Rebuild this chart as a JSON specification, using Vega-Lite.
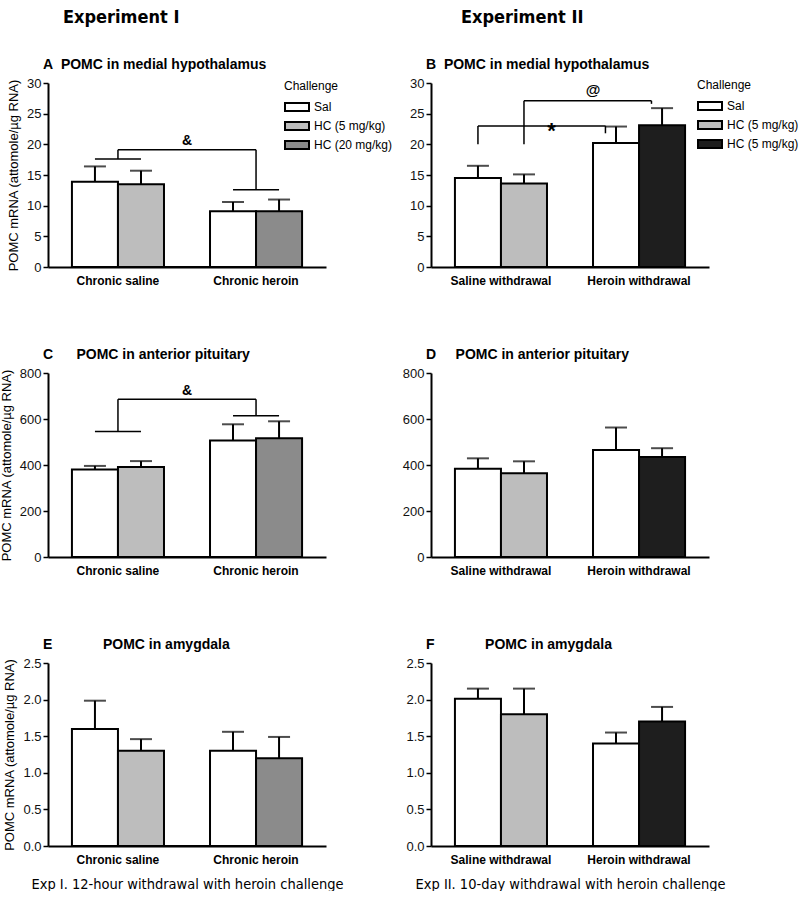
{
  "$schema": "https://vega.github.io/schema/vega-lite/v6.json",
  "background": "white",
  "padding": {"left": 0, "top": 9, "right": 0, "bottom": 0},
  "config": {
    "font": "Liberation Sans",
    "view": {"stroke": null},
    "axis": {"domainColor": "black", "domainWidth": 2, "tickColor": "black", "tickWidth": 1.5, "tickSize": 5, "labelColor": "#111", "labelFont": "Liberation Sans", "grid": false, "titleFont": "Liberation Sans", "titleColor": "black"},
    "axisX": {"ticks": false, "labelFontWeight": "bold", "labelFontSize": 12, "labelPadding": 8, "labelAngle": 0, "labelOffset": 23, "titleFont": "DejaVu Sans Condensed, Liberation Sans", "titleFontSize": 14.5, "titleFontWeight": "normal", "titlePadding": 12, "labelColor": "black"},
    "axisY": {"labelFontSize": 13, "labelPadding": 2, "labelOverlap": false, "titleFontSize": 13, "titleFontWeight": "normal", "titlePadding": 6},
    "title": {"anchor": "start", "frame": "group", "fontSize": 14, "fontWeight": "bold", "color": "black", "offset": 5, "dx": -5},
    "legend": {"symbolType": "M-1,-0.5H2V0.5H-1Z", "symbolSize": 256, "symbolStrokeColor": "black", "symbolStrokeWidth": 2, "labelFontSize": 12, "titleFontSize": 12, "titleFontWeight": "normal", "labelOffset": 12, "rowPadding": 2, "titlePadding": 5, "labelColor": "black", "titleColor": "black", "labelFont": "Liberation Sans", "titleFont": "Liberation Sans"}
  },
  "datasets": {
    "bars": [
      {"panel": "A", "column": "Chronic saline · Sal", "challenge": "Sal", "value": 13.9, "upper": 16.4},
      {"panel": "A", "column": "Chronic saline · HC", "challenge": "HC (5 mg/kg)", "value": 13.5, "upper": 15.7},
      {"panel": "A", "column": "spacer", "value": 0},
      {"panel": "A", "column": "Chronic heroin · Sal", "challenge": "Sal", "value": 9.1, "upper": 10.6},
      {"panel": "A", "column": "Chronic heroin · HC", "challenge": "HC (20 mg/kg)", "value": 9.1, "upper": 11.0},
      {"panel": "C", "column": "Chronic saline · Sal", "challenge": "Sal", "value": 380, "upper": 396},
      {"panel": "C", "column": "Chronic saline · HC", "challenge": "HC (5 mg/kg)", "value": 391, "upper": 417},
      {"panel": "C", "column": "spacer", "value": 0},
      {"panel": "C", "column": "Chronic heroin · Sal", "challenge": "Sal", "value": 507, "upper": 577},
      {"panel": "C", "column": "Chronic heroin · HC", "challenge": "HC (20 mg/kg)", "value": 516, "upper": 590},
      {"panel": "E", "column": "Chronic saline · Sal", "challenge": "Sal", "value": 1.6, "upper": 1.985},
      {"panel": "E", "column": "Chronic saline · HC", "challenge": "HC (5 mg/kg)", "value": 1.3, "upper": 1.46},
      {"panel": "E", "column": "spacer", "value": 0},
      {"panel": "E", "column": "Chronic heroin · Sal", "challenge": "Sal", "value": 1.3, "upper": 1.56},
      {"panel": "E", "column": "Chronic heroin · HC", "challenge": "HC (20 mg/kg)", "value": 1.2, "upper": 1.49},
      {"panel": "B", "column": "Saline withdrawal · Sal", "challenge": "Sal", "value": 14.5, "upper": 16.5},
      {"panel": "B", "column": "Saline withdrawal · HC", "challenge": "HC (5 mg/kg)", "value": 13.6, "upper": 15.1},
      {"panel": "B", "column": "spacer", "value": 0},
      {"panel": "B", "column": "Heroin withdrawal · Sal", "challenge": "Sal", "value": 20.2, "upper": 22.9},
      {"panel": "B", "column": "Heroin withdrawal · HC", "challenge": "HC (5 mg/kg) · heroin withdrawal", "value": 23.1, "upper": 25.9},
      {"panel": "D", "column": "Saline withdrawal · Sal", "challenge": "Sal", "value": 384, "upper": 429},
      {"panel": "D", "column": "Saline withdrawal · HC", "challenge": "HC (5 mg/kg)", "value": 364, "upper": 416},
      {"panel": "D", "column": "spacer", "value": 0},
      {"panel": "D", "column": "Heroin withdrawal · Sal", "challenge": "Sal", "value": 465, "upper": 563},
      {"panel": "D", "column": "Heroin withdrawal · HC", "challenge": "HC (5 mg/kg) · heroin withdrawal", "value": 435, "upper": 473},
      {"panel": "F", "column": "Saline withdrawal · Sal", "challenge": "Sal", "value": 2.01, "upper": 2.15},
      {"panel": "F", "column": "Saline withdrawal · HC", "challenge": "HC (5 mg/kg)", "value": 1.8, "upper": 2.15},
      {"panel": "F", "column": "spacer", "value": 0},
      {"panel": "F", "column": "Heroin withdrawal · Sal", "challenge": "Sal", "value": 1.4, "upper": 1.55},
      {"panel": "F", "column": "Heroin withdrawal · HC", "challenge": "HC (5 mg/kg) · heroin withdrawal", "value": 1.7, "upper": 1.9}
    ],
    "brackets1": [
      {"panel": "A", "leftA": "Chronic saline · Sal", "leftB": "Chronic saline · HC", "leftY": 17.6, "rightA": "Chronic heroin · Sal", "rightB": "Chronic heroin · HC", "rightY": 12.6, "topY": 19.1, "labelAt": "spacer", "label": "&"},
      {"panel": "C", "leftA": "Chronic saline · Sal", "leftB": "Chronic saline · HC", "leftY": 546, "rightA": "Chronic heroin · Sal", "rightB": "Chronic heroin · HC", "rightY": 614, "topY": 686, "labelAt": "spacer", "label": "&"}
    ],
    "brackets2": [
      {"panel": "B", "from": "Saline withdrawal · Sal", "to": "Heroin withdrawal · Sal", "fromY": 20.0, "toY": 21.8, "topY": 23.0, "labelAt": "spacer", "label": "*"},
      {"panel": "B", "from": "Saline withdrawal · HC", "to": "Heroin withdrawal · HC", "fromY": 20.0, "toY": 26.6, "topY": 27.1, "labelAt": "Heroin withdrawal · Sal", "label": "@"}
    ]
  },
  "spacing": 9,
  "resolve": {"scale": {"x": "independent", "y": "independent", "color": "independent"}, "legend": {"color": "independent"}},
  "hconcat": [
    {
      "title": {"text": "Experiment I", "font": "DejaVu Sans Condensed, Liberation Sans", "fontSize": 18, "fontWeight": "bold", "anchor": "start", "frame": "group", "dx": 15, "offset": 31},
      "spacing": 106,
      "bounds": "flush",
      "resolve": {"scale": {"x": "independent", "y": "independent", "color": "independent"}, "legend": {"color": "independent"}},
      "vconcat": [
        {
          "width": 278, "height": 184,
          "title": {"text": "A\u00a0\u00a0POMC in medial hypothalamus"},
          "layer": [
            {"data": {"name": "bars"}, "transform": [{"filter": "datum.panel == 'A' && datum.column != 'spacer'"}],
             "mark": {"type": "bar", "stroke": "black", "strokeWidth": 2},
             "encoding": {
               "x": {"field": "column", "type": "nominal", "title": null, "scale": {"domain": ["Chronic saline · Sal", "Chronic saline · HC", "spacer", "Chronic heroin · Sal", "Chronic heroin · HC"], "paddingInner": 0, "paddingOuter": 0.52}, "axis": {"labelExpr": "split(datum.value, ' · ')[1] == 'Sal' ? split(datum.value, ' · ')[0] : ''"}},
               "y": {"field": "value", "type": "quantitative", "title": "POMC mRNA (attomole/µg RNA)", "scale": {"domain": [0, 30], "nice": false}, "axis": {"values": [0, 5, 10, 15, 20, 25, 30], "labelOverlap": false}},
               "color": {"field": "challenge", "type": "nominal", "scale": {"domain": ["Sal", "HC (5 mg/kg)", "HC (20 mg/kg)"], "range": ["#ffffff", "#bdbdbd", "#8b8b8b"]}, "legend": {"title": "Challenge", "orient": "none", "legendX": 236, "legendY": -2}}
             }},
            {"data": {"name": "bars"}, "transform": [{"filter": "datum.panel == 'A' && datum.column == 'spacer'"}],
             "mark": {"type": "bar", "fill": "white", "stroke": "black", "strokeWidth": 2},
             "encoding": {"x": {"field": "column", "type": "nominal", "title": null}, "y": {"field": "value", "type": "quantitative", "title": "POMC mRNA (attomole/µg RNA)", "axis": {"values": [0, 5, 10, 15, 20, 25, 30], "labelOverlap": false}}}},
            {"data": {"name": "bars"}, "transform": [{"filter": "datum.panel == 'A' && datum.column != 'spacer'"}],
             "mark": {"type": "rule", "color": "black", "strokeWidth": 2},
             "encoding": {"x": {"field": "column", "type": "nominal", "title": null}, "y": {"field": "value", "type": "quantitative", "title": "POMC mRNA (attomole/µg RNA)", "axis": {"values": [0, 5, 10, 15, 20, 25, 30], "labelOverlap": false}}, "y2": {"field": "upper"}}},
            {"data": {"name": "bars"}, "transform": [{"filter": "datum.panel == 'A' && datum.column != 'spacer'"}],
             "mark": {"type": "tick", "color": "black", "thickness": 2, "size": 22},
             "encoding": {"x": {"field": "column", "type": "nominal", "title": null}, "y": {"field": "upper", "type": "quantitative", "title": "POMC mRNA (attomole/µg RNA)", "axis": {"values": [0, 5, 10, 15, 20, 25, 30], "labelOverlap": false}}}},
            {"data": {"name": "brackets1"}, "transform": [{"filter": "datum.panel == 'A'"}],
             "mark": {"type": "rule", "color": "black", "strokeWidth": 1.5},
             "encoding": {"x": {"field": "leftA", "type": "nominal", "bandPosition": 0.5, "title": null}, "x2": {"field": "leftB", "bandPosition": 0.5}, "y": {"field": "leftY", "type": "quantitative", "title": "POMC mRNA (attomole/µg RNA)", "axis": {"values": [0, 5, 10, 15, 20, 25, 30], "labelOverlap": false}}}},
            {"data": {"name": "brackets1"}, "transform": [{"filter": "datum.panel == 'A'"}],
             "mark": {"type": "rule", "color": "black", "strokeWidth": 1.5},
             "encoding": {"x": {"field": "rightA", "type": "nominal", "bandPosition": 0.5, "title": null}, "x2": {"field": "rightB", "bandPosition": 0.5}, "y": {"field": "rightY", "type": "quantitative", "title": "POMC mRNA (attomole/µg RNA)", "axis": {"values": [0, 5, 10, 15, 20, 25, 30], "labelOverlap": false}}}},
            {"data": {"name": "brackets1"}, "transform": [{"filter": "datum.panel == 'A'"}],
             "mark": {"type": "rule", "color": "black", "strokeWidth": 1.5},
             "encoding": {"x": {"field": "leftB", "type": "nominal", "bandPosition": 0, "title": null}, "x2": {"field": "rightB", "bandPosition": 0}, "y": {"field": "topY", "type": "quantitative", "title": "POMC mRNA (attomole/µg RNA)", "axis": {"values": [0, 5, 10, 15, 20, 25, 30], "labelOverlap": false}}}},
            {"data": {"name": "brackets1"}, "transform": [{"filter": "datum.panel == 'A'"}],
             "mark": {"type": "rule", "color": "black", "strokeWidth": 1.5},
             "encoding": {"x": {"field": "leftB", "type": "nominal", "bandPosition": 0, "title": null}, "y": {"field": "leftY", "type": "quantitative", "title": "POMC mRNA (attomole/µg RNA)", "axis": {"values": [0, 5, 10, 15, 20, 25, 30], "labelOverlap": false}}, "y2": {"field": "topY"}}},
            {"data": {"name": "brackets1"}, "transform": [{"filter": "datum.panel == 'A'"}],
             "mark": {"type": "rule", "color": "black", "strokeWidth": 1.5},
             "encoding": {"x": {"field": "rightB", "type": "nominal", "bandPosition": 0, "title": null}, "y": {"field": "rightY", "type": "quantitative", "title": "POMC mRNA (attomole/µg RNA)", "axis": {"values": [0, 5, 10, 15, 20, 25, 30], "labelOverlap": false}}, "y2": {"field": "topY"}}},
            {"data": {"name": "brackets1"}, "transform": [{"filter": "datum.panel == 'A'"}],
             "mark": {"type": "text", "fontSize": 14, "fontWeight": "bold", "baseline": "alphabetic", "dy": -4.5, "color": "black"},
             "encoding": {"x": {"field": "labelAt", "type": "nominal", "bandPosition": 0.5, "title": null}, "y": {"field": "topY", "type": "quantitative", "title": "POMC mRNA (attomole/µg RNA)", "axis": {"values": [0, 5, 10, 15, 20, 25, 30], "labelOverlap": false}}, "text": {"field": "label"}}}
          ]
        },
        {
          "width": 278, "height": 184,
          "title": {"text": "C\u00a0\u00a0\u00a0\u00a0\u00a0\u00a0POMC in anterior pituitary"},
          "layer": [
            {"data": {"name": "bars"}, "transform": [{"filter": "datum.panel == 'C' && datum.column != 'spacer'"}],
             "mark": {"type": "bar", "stroke": "black", "strokeWidth": 2},
             "encoding": {
               "x": {"field": "column", "type": "nominal", "title": null, "scale": {"domain": ["Chronic saline · Sal", "Chronic saline · HC", "spacer", "Chronic heroin · Sal", "Chronic heroin · HC"], "paddingInner": 0, "paddingOuter": 0.52}, "axis": {"labelExpr": "split(datum.value, ' · ')[1] == 'Sal' ? split(datum.value, ' · ')[0] : ''"}},
               "y": {"field": "value", "type": "quantitative", "title": "POMC mRNA (attomole/µg RNA)", "scale": {"domain": [0, 800], "nice": false}, "axis": {"values": [0, 200, 400, 600, 800], "labelOverlap": false}},
               "color": {"field": "challenge", "type": "nominal", "scale": {"domain": ["Sal", "HC (5 mg/kg)", "HC (20 mg/kg)"], "range": ["#ffffff", "#bdbdbd", "#8b8b8b"]}, "legend": null}
             }},
            {"data": {"name": "bars"}, "transform": [{"filter": "datum.panel == 'C' && datum.column == 'spacer'"}],
             "mark": {"type": "bar", "fill": "white", "stroke": "black", "strokeWidth": 2},
             "encoding": {"x": {"field": "column", "type": "nominal", "title": null}, "y": {"field": "value", "type": "quantitative", "title": "POMC mRNA (attomole/µg RNA)"}}},
            {"data": {"name": "bars"}, "transform": [{"filter": "datum.panel == 'C' && datum.column != 'spacer'"}],
             "mark": {"type": "rule", "color": "black", "strokeWidth": 2},
             "encoding": {"x": {"field": "column", "type": "nominal", "title": null}, "y": {"field": "value", "type": "quantitative", "title": "POMC mRNA (attomole/µg RNA)"}, "y2": {"field": "upper"}}},
            {"data": {"name": "bars"}, "transform": [{"filter": "datum.panel == 'C' && datum.column != 'spacer'"}],
             "mark": {"type": "tick", "color": "black", "thickness": 2, "size": 22},
             "encoding": {"x": {"field": "column", "type": "nominal", "title": null}, "y": {"field": "upper", "type": "quantitative", "title": "POMC mRNA (attomole/µg RNA)"}}},
            {"data": {"name": "brackets1"}, "transform": [{"filter": "datum.panel == 'C'"}],
             "mark": {"type": "rule", "color": "black", "strokeWidth": 1.5},
             "encoding": {"x": {"field": "leftA", "type": "nominal", "bandPosition": 0.5, "title": null}, "x2": {"field": "leftB", "bandPosition": 0.5}, "y": {"field": "leftY", "type": "quantitative", "title": "POMC mRNA (attomole/µg RNA)"}}},
            {"data": {"name": "brackets1"}, "transform": [{"filter": "datum.panel == 'C'"}],
             "mark": {"type": "rule", "color": "black", "strokeWidth": 1.5},
             "encoding": {"x": {"field": "rightA", "type": "nominal", "bandPosition": 0.5, "title": null}, "x2": {"field": "rightB", "bandPosition": 0.5}, "y": {"field": "rightY", "type": "quantitative", "title": "POMC mRNA (attomole/µg RNA)"}}},
            {"data": {"name": "brackets1"}, "transform": [{"filter": "datum.panel == 'C'"}],
             "mark": {"type": "rule", "color": "black", "strokeWidth": 1.5},
             "encoding": {"x": {"field": "leftB", "type": "nominal", "bandPosition": 0, "title": null}, "x2": {"field": "rightB", "bandPosition": 0}, "y": {"field": "topY", "type": "quantitative", "title": "POMC mRNA (attomole/µg RNA)"}}},
            {"data": {"name": "brackets1"}, "transform": [{"filter": "datum.panel == 'C'"}],
             "mark": {"type": "rule", "color": "black", "strokeWidth": 1.5},
             "encoding": {"x": {"field": "leftB", "type": "nominal", "bandPosition": 0, "title": null}, "y": {"field": "leftY", "type": "quantitative", "title": "POMC mRNA (attomole/µg RNA)"}, "y2": {"field": "topY"}}},
            {"data": {"name": "brackets1"}, "transform": [{"filter": "datum.panel == 'C'"}],
             "mark": {"type": "rule", "color": "black", "strokeWidth": 1.5},
             "encoding": {"x": {"field": "rightB", "type": "nominal", "bandPosition": 0, "title": null}, "y": {"field": "rightY", "type": "quantitative", "title": "POMC mRNA (attomole/µg RNA)"}, "y2": {"field": "topY"}}},
            {"data": {"name": "brackets1"}, "transform": [{"filter": "datum.panel == 'C'"}],
             "mark": {"type": "text", "fontSize": 14, "fontWeight": "bold", "baseline": "alphabetic", "dy": -4.5, "color": "black"},
             "encoding": {"x": {"field": "labelAt", "type": "nominal", "bandPosition": 0.5, "title": null}, "y": {"field": "topY", "type": "quantitative", "title": "POMC mRNA (attomole/µg RNA)"}, "text": {"field": "label"}}}
          ]
        },
        {
          "width": 278, "height": 183,
          "title": {"text": "E\u00a0\u00a0\u00a0\u00a0\u00a0\u00a0\u00a0\u00a0\u00a0\u00a0\u00a0\u00a0\u00a0POMC in amygdala"},
          "layer": [
            {"data": {"name": "bars"}, "transform": [{"filter": "datum.panel == 'E' && datum.column != 'spacer'"}],
             "mark": {"type": "bar", "stroke": "black", "strokeWidth": 2},
             "encoding": {
               "x": {"field": "column", "type": "nominal", "title": "Exp I. 12-hour withdrawal with heroin challenge", "scale": {"domain": ["Chronic saline · Sal", "Chronic saline · HC", "spacer", "Chronic heroin · Sal", "Chronic heroin · HC"], "paddingInner": 0, "paddingOuter": 0.52}, "axis": {"labelExpr": "split(datum.value, ' · ')[1] == 'Sal' ? split(datum.value, ' · ')[0] : ''"}},
               "y": {"field": "value", "type": "quantitative", "title": "POMC mRNA (attomole/µg RNA)", "scale": {"domain": [0, 2.5], "nice": false}, "axis": {"values": [0, 0.5, 1, 1.5, 2, 2.5], "tickCount": 6, "format": ".1f", "labelOverlap": false}},
               "color": {"field": "challenge", "type": "nominal", "scale": {"domain": ["Sal", "HC (5 mg/kg)", "HC (20 mg/kg)"], "range": ["#ffffff", "#bdbdbd", "#8b8b8b"]}, "legend": null}
             }},
            {"data": {"name": "bars"}, "transform": [{"filter": "datum.panel == 'E' && datum.column == 'spacer'"}],
             "mark": {"type": "bar", "fill": "white", "stroke": "black", "strokeWidth": 2},
             "encoding": {"x": {"field": "column", "type": "nominal", "title": "Exp I. 12-hour withdrawal with heroin challenge"}, "y": {"field": "value", "type": "quantitative", "title": "POMC mRNA (attomole/µg RNA)"}}},
            {"data": {"name": "bars"}, "transform": [{"filter": "datum.panel == 'E' && datum.column != 'spacer'"}],
             "mark": {"type": "rule", "color": "black", "strokeWidth": 2},
             "encoding": {"x": {"field": "column", "type": "nominal", "title": "Exp I. 12-hour withdrawal with heroin challenge"}, "y": {"field": "value", "type": "quantitative", "title": "POMC mRNA (attomole/µg RNA)"}, "y2": {"field": "upper"}}},
            {"data": {"name": "bars"}, "transform": [{"filter": "datum.panel == 'E' && datum.column != 'spacer'"}],
             "mark": {"type": "tick", "color": "black", "thickness": 2, "size": 22},
             "encoding": {"x": {"field": "column", "type": "nominal", "title": "Exp I. 12-hour withdrawal with heroin challenge"}, "y": {"field": "upper", "type": "quantitative", "title": "POMC mRNA (attomole/µg RNA)"}}}
          ]
        }
      ]
    },
    {
      "title": {"text": "Experiment II", "font": "DejaVu Sans Condensed, Liberation Sans", "fontSize": 18, "fontWeight": "bold", "anchor": "start", "frame": "group", "dx": 30, "offset": 31},
      "spacing": 106,
      "bounds": "flush",
      "resolve": {"scale": {"x": "independent", "y": "independent", "color": "independent"}, "legend": {"color": "independent"}},
      "vconcat": [
        {
          "width": 278, "height": 184,
          "title": {"text": "B\u00a0\u00a0POMC in medial hypothalamus"},
          "layer": [
            {"data": {"name": "bars"}, "transform": [{"filter": "datum.panel == 'B' && datum.column != 'spacer'"}],
             "mark": {"type": "bar", "stroke": "black", "strokeWidth": 2},
             "encoding": {
               "x": {"field": "column", "type": "nominal", "title": null, "scale": {"domain": ["Saline withdrawal · Sal", "Saline withdrawal · HC", "spacer", "Heroin withdrawal · Sal", "Heroin withdrawal · HC"], "paddingInner": 0, "paddingOuter": 0.52}, "axis": {"labelExpr": "split(datum.value, ' · ')[1] == 'Sal' ? split(datum.value, ' · ')[0] : ''"}},
               "y": {"field": "value", "type": "quantitative", "title": null, "scale": {"domain": [0, 30], "nice": false}, "axis": {"tickCount": 7, "labelOverlap": false}},
               "color": {"field": "challenge", "type": "nominal", "scale": {"domain": ["Sal", "HC (5 mg/kg)", "HC (5 mg/kg) · heroin withdrawal"], "range": ["#ffffff", "#bdbdbd", "#1e1e1e"]}, "legend": {"title": "Challenge", "orient": "none", "legendX": 266, "legendY": -3, "labelExpr": "split(datum.label, ' · ')[0]"}}
             }},
            {"data": {"name": "bars"}, "transform": [{"filter": "datum.panel == 'B' && datum.column == 'spacer'"}],
             "mark": {"type": "bar", "fill": "white", "stroke": "black", "strokeWidth": 2},
             "encoding": {"x": {"field": "column", "type": "nominal", "title": null}, "y": {"field": "value", "type": "quantitative", "title": null}}},
            {"data": {"name": "bars"}, "transform": [{"filter": "datum.panel == 'B' && datum.column != 'spacer'"}],
             "mark": {"type": "rule", "color": "black", "strokeWidth": 2},
             "encoding": {"x": {"field": "column", "type": "nominal", "title": null}, "y": {"field": "value", "type": "quantitative", "title": null}, "y2": {"field": "upper"}}},
            {"data": {"name": "bars"}, "transform": [{"filter": "datum.panel == 'B' && datum.column != 'spacer'"}],
             "mark": {"type": "tick", "color": "black", "thickness": 2, "size": 22},
             "encoding": {"x": {"field": "column", "type": "nominal", "title": null}, "y": {"field": "upper", "type": "quantitative", "title": null}}},
            {"data": {"name": "brackets2"}, "transform": [{"filter": "datum.panel == 'B'"}],
             "mark": {"type": "rule", "color": "black", "strokeWidth": 1.5},
             "encoding": {"x": {"field": "from", "type": "nominal", "bandPosition": 0.5, "title": null}, "y": {"field": "fromY", "type": "quantitative", "title": null}, "y2": {"field": "topY"}}},
            {"data": {"name": "brackets2"}, "transform": [{"filter": "datum.panel == 'B'"}],
             "mark": {"type": "rule", "color": "black", "strokeWidth": 1.5},
             "encoding": {"x": {"field": "from", "type": "nominal", "bandPosition": 0.5, "title": null}, "x2": {"field": "to", "bandPosition": 0.27}, "y": {"field": "topY", "type": "quantitative", "title": null}}},
            {"data": {"name": "brackets2"}, "transform": [{"filter": "datum.panel == 'B'"}],
             "mark": {"type": "rule", "color": "black", "strokeWidth": 1.5},
             "encoding": {"x": {"field": "to", "type": "nominal", "bandPosition": 0.27, "title": null}, "y": {"field": "toY", "type": "quantitative", "title": null}, "y2": {"field": "topY"}}},
            {"data": {"name": "brackets2"}, "transform": [{"filter": "datum.panel == 'B' && datum.label == '*'"}],
             "mark": {"type": "text", "fontSize": 22, "fontWeight": "bold", "baseline": "alphabetic", "dy": 12, "color": "black"},
             "encoding": {"x": {"field": "labelAt", "type": "nominal", "bandPosition": 0.1, "title": null}, "y": {"field": "topY", "type": "quantitative", "title": null}, "text": {"field": "label"}}},
            {"data": {"name": "brackets2"}, "transform": [{"filter": "datum.panel == 'B' && datum.label == '@'"}],
             "mark": {"type": "text", "fontSize": 15, "fontWeight": "bold", "baseline": "alphabetic", "dy": -6, "color": "black"},
             "encoding": {"x": {"field": "labelAt", "type": "nominal", "bandPosition": 0, "title": null}, "y": {"field": "topY", "type": "quantitative", "title": null}, "text": {"field": "label"}}}
          ]
        },
        {
          "width": 278, "height": 184,
          "title": {"text": "D\u00a0\u00a0\u00a0\u00a0\u00a0POMC in anterior pituitary"},
          "layer": [
            {"data": {"name": "bars"}, "transform": [{"filter": "datum.panel == 'D' && datum.column != 'spacer'"}],
             "mark": {"type": "bar", "stroke": "black", "strokeWidth": 2},
             "encoding": {
               "x": {"field": "column", "type": "nominal", "title": null, "scale": {"domain": ["Saline withdrawal · Sal", "Saline withdrawal · HC", "spacer", "Heroin withdrawal · Sal", "Heroin withdrawal · HC"], "paddingInner": 0, "paddingOuter": 0.52}, "axis": {"labelExpr": "split(datum.value, ' · ')[1] == 'Sal' ? split(datum.value, ' · ')[0] : ''"}},
               "y": {"field": "value", "type": "quantitative", "title": null, "scale": {"domain": [0, 800], "nice": false}, "axis": {"values": [0, 200, 400, 600, 800], "labelOverlap": false}},
               "color": {"field": "challenge", "type": "nominal", "scale": {"domain": ["Sal", "HC (5 mg/kg)", "HC (5 mg/kg) · heroin withdrawal"], "range": ["#ffffff", "#bdbdbd", "#1e1e1e"]}, "legend": null}
             }},
            {"data": {"name": "bars"}, "transform": [{"filter": "datum.panel == 'D' && datum.column == 'spacer'"}],
             "mark": {"type": "bar", "fill": "white", "stroke": "black", "strokeWidth": 2},
             "encoding": {"x": {"field": "column", "type": "nominal", "title": null}, "y": {"field": "value", "type": "quantitative", "title": null}}},
            {"data": {"name": "bars"}, "transform": [{"filter": "datum.panel == 'D' && datum.column != 'spacer'"}],
             "mark": {"type": "rule", "color": "black", "strokeWidth": 2},
             "encoding": {"x": {"field": "column", "type": "nominal", "title": null}, "y": {"field": "value", "type": "quantitative", "title": null}, "y2": {"field": "upper"}}},
            {"data": {"name": "bars"}, "transform": [{"filter": "datum.panel == 'D' && datum.column != 'spacer'"}],
             "mark": {"type": "tick", "color": "black", "thickness": 2, "size": 22},
             "encoding": {"x": {"field": "column", "type": "nominal", "title": null}, "y": {"field": "upper", "type": "quantitative", "title": null}}}
          ]
        },
        {
          "width": 278, "height": 183,
          "title": {"text": "F\u00a0\u00a0\u00a0\u00a0\u00a0\u00a0\u00a0\u00a0\u00a0\u00a0\u00a0\u00a0\u00a0POMC in amygdala"},
          "layer": [
            {"data": {"name": "bars"}, "transform": [{"filter": "datum.panel == 'F' && datum.column != 'spacer'"}],
             "mark": {"type": "bar", "stroke": "black", "strokeWidth": 2},
             "encoding": {
               "x": {"field": "column", "type": "nominal", "title": "Exp II. 10-day withdrawal with heroin challenge", "scale": {"domain": ["Saline withdrawal · Sal", "Saline withdrawal · HC", "spacer", "Heroin withdrawal · Sal", "Heroin withdrawal · HC"], "paddingInner": 0, "paddingOuter": 0.52}, "axis": {"labelExpr": "split(datum.value, ' · ')[1] == 'Sal' ? split(datum.value, ' · ')[0] : ''"}},
               "y": {"field": "value", "type": "quantitative", "title": null, "scale": {"domain": [0, 2.5], "nice": false}, "axis": {"tickCount": 6, "format": ".1f", "labelOverlap": false}},
               "color": {"field": "challenge", "type": "nominal", "scale": {"domain": ["Sal", "HC (5 mg/kg)", "HC (5 mg/kg) · heroin withdrawal"], "range": ["#ffffff", "#bdbdbd", "#1e1e1e"]}, "legend": null}
             }},
            {"data": {"name": "bars"}, "transform": [{"filter": "datum.panel == 'F' && datum.column == 'spacer'"}],
             "mark": {"type": "bar", "fill": "white", "stroke": "black", "strokeWidth": 2},
             "encoding": {"x": {"field": "column", "type": "nominal", "title": "Exp II. 10-day withdrawal with heroin challenge"}, "y": {"field": "value", "type": "quantitative", "title": null}}},
            {"data": {"name": "bars"}, "transform": [{"filter": "datum.panel == 'F' && datum.column != 'spacer'"}],
             "mark": {"type": "rule", "color": "black", "strokeWidth": 2},
             "encoding": {"x": {"field": "column", "type": "nominal", "title": "Exp II. 10-day withdrawal with heroin challenge"}, "y": {"field": "value", "type": "quantitative", "title": null}, "y2": {"field": "upper"}}},
            {"data": {"name": "bars"}, "transform": [{"filter": "datum.panel == 'F' && datum.column != 'spacer'"}],
             "mark": {"type": "tick", "color": "black", "thickness": 2, "size": 22},
             "encoding": {"x": {"field": "column", "type": "nominal", "title": "Exp II. 10-day withdrawal with heroin challenge"}, "y": {"field": "upper", "type": "quantitative", "title": null}}}
          ]
        }
      ]
    }
  ]
}
